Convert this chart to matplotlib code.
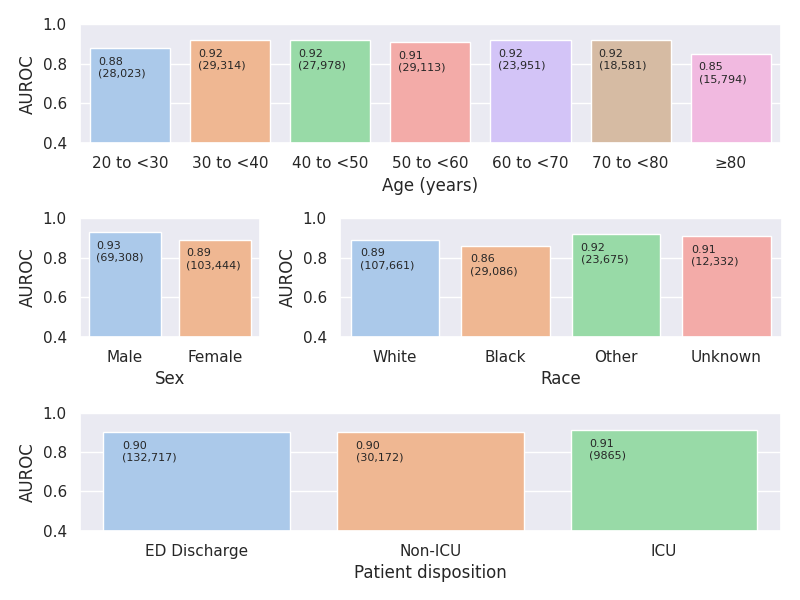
import matplotlib
matplotlib.use("Agg")
import matplotlib.pyplot as plt
import seaborn as sns

sns.set_theme(style="darkgrid")
plt.rcParams["font.family"] = ["DejaVu Sans"]

age_cats = ["20 to <30", "30 to <40", "40 to <50", "50 to <60", "60 to <70", "70 to <80", "≥80"]
age_auroc = [0.88, 0.92, 0.92, 0.91, 0.92, 0.92, 0.85]
age_n = ["28,023", "29,314", "27,978", "29,113", "23,951", "18,581", "15,794"]

sex_cats = ["Male", "Female"]
sex_auroc = [0.93, 0.89]
sex_n = ["69,308", "103,444"]

race_cats = ["White", "Black", "Other", "Unknown"]
race_auroc = [0.89, 0.86, 0.92, 0.91]
race_n = ["107,661", "29,086", "23,675", "12,332"]

disp_cats = ["ED Discharge", "Non-ICU", "ICU"]
disp_auroc = [0.90, 0.90, 0.91]
disp_n = ["132,717", "30,172", "9865"]

fig = plt.figure(figsize=(8, 6), dpi=100)
ax_age = fig.add_axes([0.1, 0.7617, 0.876, 0.1978])
ax_sex = fig.add_axes([0.1, 0.4388, 0.225, 0.1974])
ax_race = fig.add_axes([0.425, 0.4388, 0.552, 0.1974])
ax_disp = fig.add_axes([0.1, 0.1155, 0.876, 0.1967])


def draw(ax, cats, vals, ns, xlabel):
    sns.barplot(x=cats, y=vals, hue=cats, palette="pastel", legend=False, ax=ax)
    ax.set_ylim(0.4, 1.0)
    ax.set_yticks([0.4, 0.6, 0.8, 1.0])
    ax.set_ylabel("AUROC")
    ax.set_xlabel(xlabel)
    for i, (v, n) in enumerate(zip(vals, ns)):
        ax.text(i - 0.32, v - 0.043, f"{v:.2f}\n({n})", fontsize=8,
                va="top", ha="left")


draw(ax_age, age_cats, age_auroc, age_n, "Age (years)")
draw(ax_sex, sex_cats, sex_auroc, sex_n, "Sex")
draw(ax_race, race_cats, race_auroc, race_n, "Race")
draw(ax_disp, disp_cats, disp_auroc, disp_n, "Patient disposition")

fig.savefig("out.png", dpi=100)
